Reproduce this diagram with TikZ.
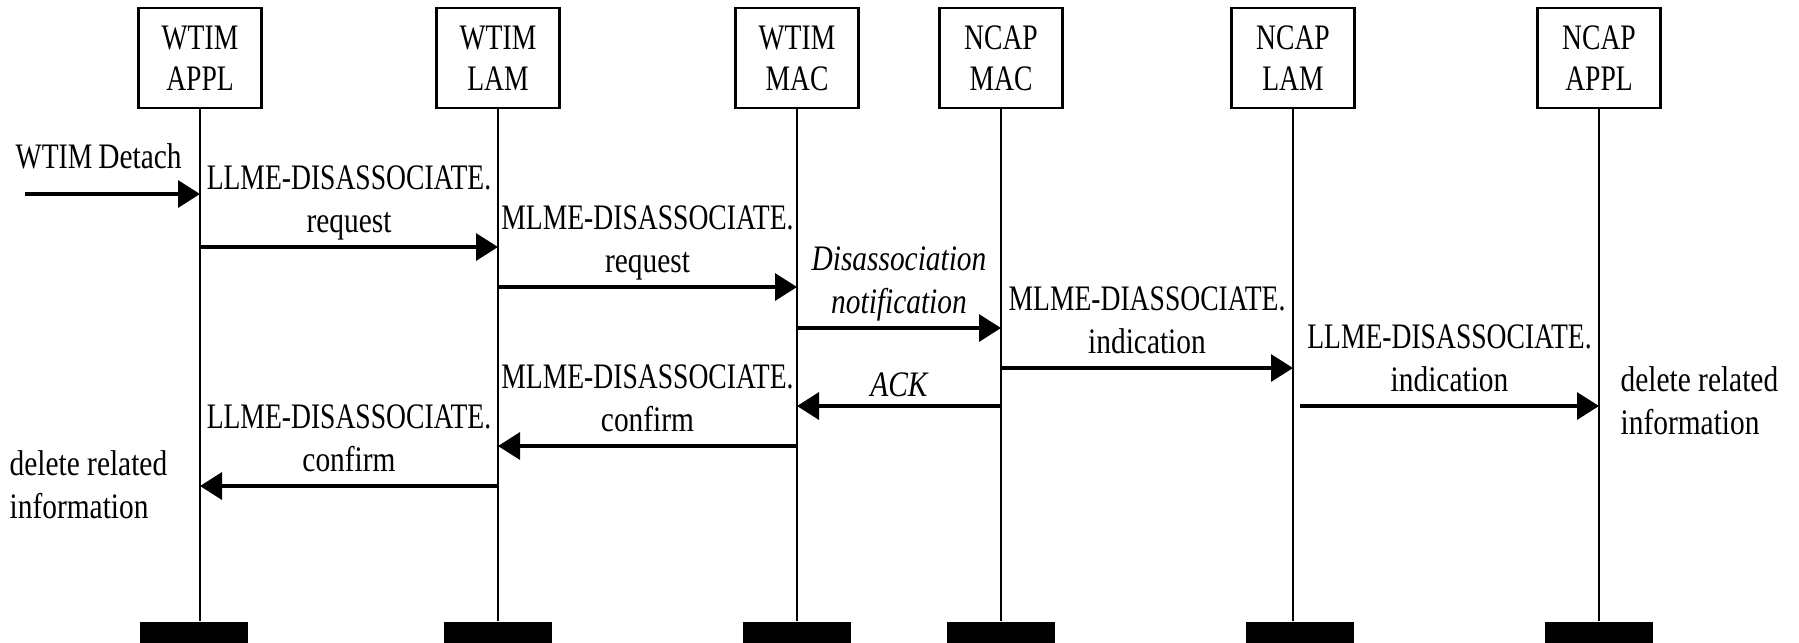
\documentclass[tikz,border=0pt]{standalone}
\usepackage{fontspec}
\setmainfont{Liberation Serif}[FakeStretch=0.82]
\newfontfamily\capsfont{Liberation Serif}[FakeStretch=0.77]
\usetikzlibrary{arrows.meta}

\begin{document}
\begin{tikzpicture}[x=0.1mm, y=-0.1mm,
	font=\fontsize{10.2pt}{12.2pt}\selectfont,
	entity/.style={draw, line width=0.8pt, fill=white, minimum width=12.3mm, minimum height=10mm, inner sep=0pt, align=center, font=\fontsize{10.2pt}{11.7pt}\capsfont},
	endbar/.style={fill=black, minimum width=10.8mm, minimum height=2.1mm, inner sep=0pt},
	life/.style={line width=0.55pt},
	msg/.style={line width=0.95pt, -{Triangle[length=2.2mm, width=2.7mm]}},
	lbl/.style={anchor=south, inner sep=0pt, align=center, execute at end node=\strut},
	ital/.style={font=\fontsize{10.2pt}{12.2pt}\itshape},
	note/.style={inner sep=0pt, align=left, execute at end node=\strut}]
	\useasboundingbox (0,0) rectangle (1799,642);

	% the six entities
	\node[entity] (wappl) at (200,58) {WTIM\\APPL};
	\node[entity] (wlam) at (498,58) {WTIM\\LAM};
	\node[entity] (wmac) at (797,58) {WTIM\\MAC};
	\node[entity] (nmac) at (1001,58) {NCAP\\MAC};
	\node[entity] (nlam) at (1293,58) {NCAP\\LAM};
	\node[entity] (nappl) at (1599,58) {NCAP\\APPL};

	\node[endbar] (wappl-e) at (194,632) {};
	\node[endbar] (wlam-e) at (498,632) {};
	\node[endbar] (wmac-e) at (797,632) {};
	\node[endbar] (nmac-e) at (1001,632) {};
	\node[endbar] (nlam-e) at (1300,632) {};
	\node[endbar] (nappl-e) at (1599,632) {};

	\draw[life] (wappl) -- (wappl |- wappl-e.north);
	\draw[life] (wlam) -- (wlam-e);
	\draw[life] (wmac) -- (wmac-e);
	\draw[life] (nmac) -- (nmac-e);
	\draw[life] (nlam) -- (nlam |- nlam-e.north);
	\draw[life] (nappl) -- (nappl-e);

	% message levels
	\coordinate (detach) at (25,194);
	\coordinate (m2) at (0,247);
	\coordinate (m3) at (0,287);
	\coordinate (m4) at (0,328);
	\coordinate (m5) at (0,368);
	\coordinate (m6) at (0,406);
	\coordinate (m8) at (0,446);
	\coordinate (m9) at (0,486);

	\node[anchor=base west, inner sep=0pt] (detachlbl) at (15,168) {{\capsfont WTIM}\,Detach};
	\draw[msg] (detach) -- (wappl |- detach);

	\draw[msg] (wappl |- m2) -- node[lbl] {{\capsfont LLME-DISASSOCIATE.}\\request} (wlam |- m2);
	\draw[msg] (wlam |- m3) -- node[lbl] {{\capsfont MLME-DISASSOCIATE.}\\request} (wmac |- m3);
	\draw[msg] (wmac |- m4) -- node[lbl, ital] {Disassociation\\notification} (nmac |- m4);
	\draw[msg] (nmac |- m5) -- node[lbl] {{\capsfont MLME-DIASSOCIATE.}\\indication} (nlam |- m5);
	\draw[msg] ([xshift=0.7mm]nlam |- m6) -- node[lbl] {{\capsfont LLME-DISASSOCIATE.}\\indication} (nappl |- m6);
	\draw[msg] (nmac |- m6) -- node[ital, anchor=base, yshift=1mm, inner sep=0pt] {ACK} (wmac |- m6);
	\draw[msg] (wmac |- m8) -- node[lbl] {{\capsfont MLME-DISASSOCIATE.}\\confirm} (wlam |- m8);
	\draw[msg] (wlam |- m9) -- node[lbl] {{\capsfont LLME-DISASSOCIATE.}\\confirm} (wappl |- m9);

	% notes
	\node[note, anchor=south west] (delright) at (1620,448) {delete related\\information};
	\node[note, anchor=south west] (delleft) at (9,532) {delete related\\information};
\end{tikzpicture}
\end{document}
